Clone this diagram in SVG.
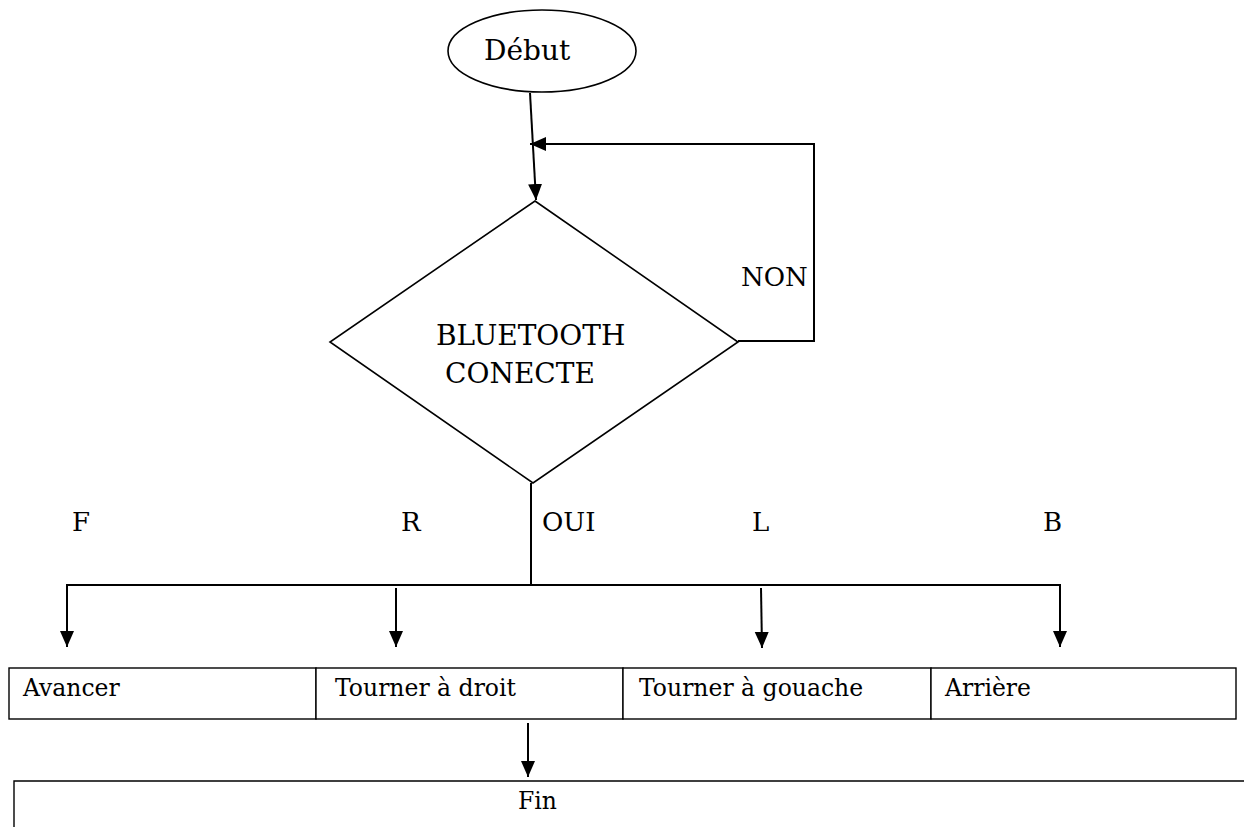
<svg xmlns="http://www.w3.org/2000/svg" width="1244" height="827" viewBox="0 0 1244 827">
  <style>
    .shape { fill: #ffffff; stroke: #000000; stroke-width: 1.6; }
    .box { fill: #ffffff; stroke: #000000; stroke-width: 1.4; }
    .wire { fill: none; stroke: #000000; stroke-width: 2; }
    .arrow { fill: none; stroke: #000000; stroke-width: 2; marker-end: url(#head); }
    text { fill: #000000; font-family: "DejaVu Serif", serif; }
    .big { font-size: 28px; }
    .lbl { font-size: 26px; }
    .cell { font-size: 23.5px; }
  </style>
  <defs>
    <marker id="head" markerUnits="userSpaceOnUse" markerWidth="16" markerHeight="16" refX="16" refY="8" orient="auto">
      <path d="M0,1 L16,8 L0,15 z" fill="#000000"/>
    </marker>
  </defs>

  <!-- connectors -->
  <g id="connectors">
    <line class="arrow" x1="530" y1="93" x2="536" y2="200"/>
    <polyline class="arrow" points="738,341 814,341 814,144 530,144"/>
    <line class="wire" x1="531" y1="483" x2="531" y2="585"/>
    <line class="wire" x1="66" y1="585" x2="1061" y2="585"/>
    <line class="arrow" x1="67" y1="585" x2="67" y2="647"/>
    <line class="arrow" x1="396" y1="588" x2="396" y2="647"/>
    <line class="arrow" x1="761" y1="588" x2="762" y2="648"/>
    <line class="arrow" x1="1060" y1="585" x2="1060" y2="647"/>
    <line class="arrow" x1="528" y1="723" x2="528" y2="777"/>
    <text class="lbl" x="741" y="286">NON</text>
    <text class="lbl" x="72" y="531">F</text>
    <text class="lbl" x="401" y="531">R</text>
    <text class="lbl" x="542" y="531">OUI</text>
    <text class="lbl" x="752" y="531">L</text>
    <text class="lbl" x="1043" y="531">B</text>
  </g>

  <!-- start terminal -->
  <g id="debut">
    <ellipse class="shape" cx="542" cy="51" rx="94" ry="41"/>
    <text class="big" x="484" y="60">Début</text>
  </g>

  <!-- decision -->
  <g id="bluetooth">
    <polygon class="shape" points="535,201 738,342 533,483 330,342"/>
    <text class="big" x="436" y="345">BLUETOOTH</text>
    <text class="big" x="445" y="383">CONECTE</text>
  </g>

  <!-- actions -->
  <g id="avancer">
    <rect class="box" x="9" y="668" width="307" height="51"/>
    <text class="cell" x="23" y="696">Avancer</text>
  </g>
  <g id="droit">
    <rect class="box" x="316" y="668" width="307" height="51"/>
    <text class="cell" x="335" y="696">Tourner à droit</text>
  </g>
  <g id="gouache">
    <rect class="box" x="623" y="668" width="308" height="51"/>
    <text class="cell" x="639" y="696">Tourner à gouache</text>
  </g>
  <g id="arriere">
    <rect class="box" x="931" y="668" width="305" height="51"/>
    <text class="cell" x="945" y="696">Arrière</text>
  </g>

  <!-- end -->
  <g id="fin">
    <path class="box" d="M14,830 V781 H1250"/>
    <text class="cell" x="518" y="809">Fin</text>
  </g>
</svg>
